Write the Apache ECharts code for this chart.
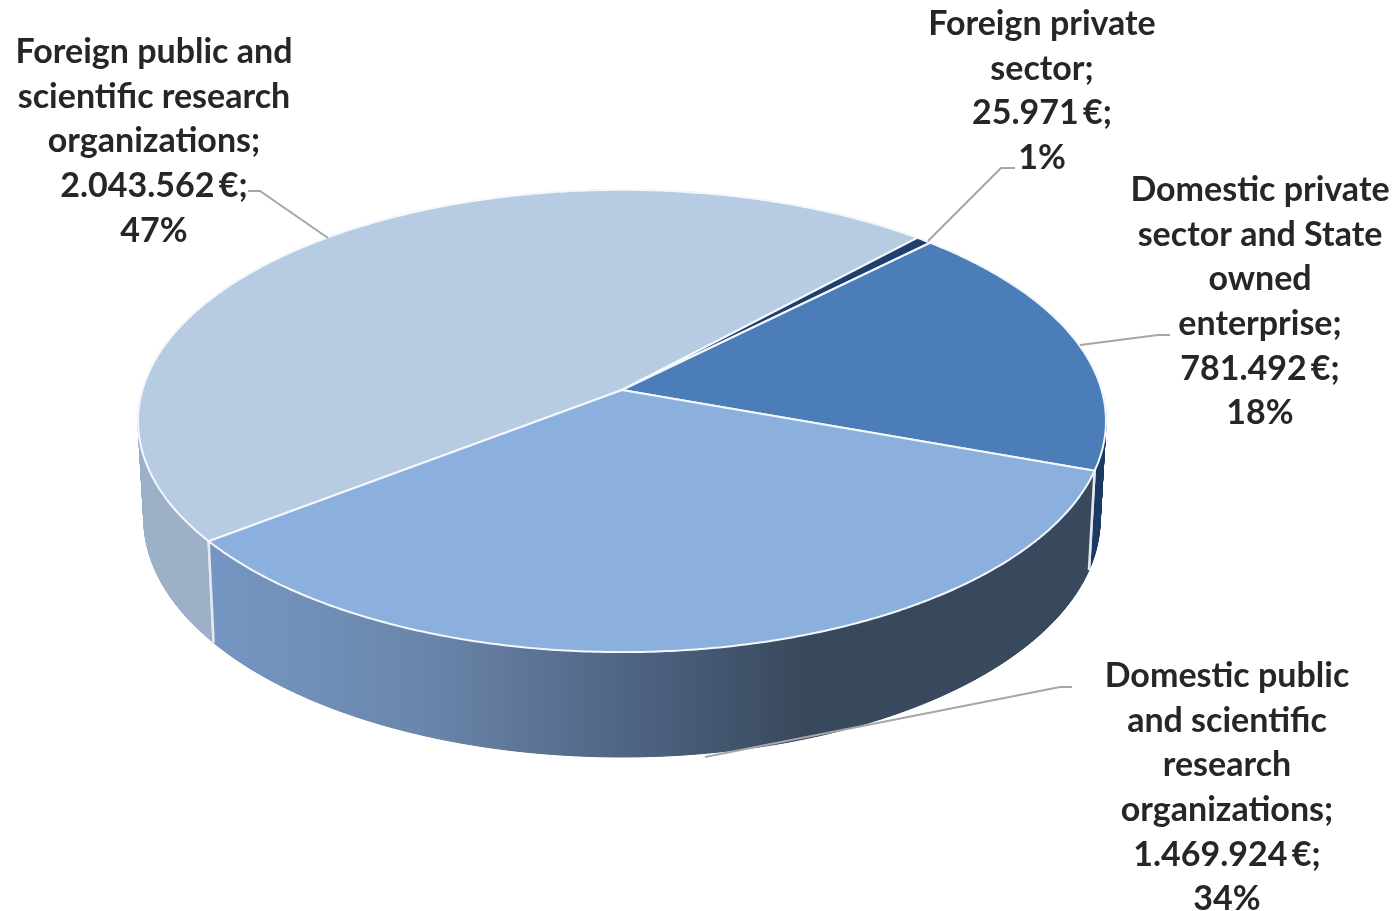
<!DOCTYPE html>
<html>
<head>
<meta charset="utf-8">
<style>
    html, body { margin: 0; padding: 0; background: #fff; }
    #chart { width: 1394px; height: 911px; }
</style>
<script src="https://cdn.jsdelivr.net/npm/echarts@6/dist/echarts.min.js"></script>
</head>
<body>
<div id="chart"></div>
<script>
const sliceNames = [
    'Foreign public and\nscientific research\norganizations;',
    'Foreign private\nsector;',
    'Domestic private\nsector and State\nowned\nenterprise;',
    'Domestic public\nand scientific\nresearch\norganizations;'
];
const sliceValues = [2043562, 25971, 781492, 1469924];
const topColors = ['#b7cce3', '#1f3f6e', '#4b7db9', '#8bb0de'];

// first slice starts here, clockwise on screen, degrees
const startAngle = 142.3;
const centerX = 622;
const centerY = 390;
const radiusX = 479.6;
const radiusY = 227;
const tilt = -0.134;

const labelAnchors = [[154, 30], [1042, 2], [1260, 168], [1227, 654]];
const leaderLines = [
    [[248, 191], [260, 191], [328, 238]],
    [[1015, 168], [1001, 168], [928, 241]],
    [[1170, 335], [1158, 335], [1080, 345]],
    [[1072, 687], [1060, 687], [705, 757]]
];

const total = sliceValues.reduce((a, b) => a + b, 0);

let project = function (deg) {
    let rad = deg * Math.PI / 180;
    let w = 1 + tilt * Math.sin(rad);
    return [centerX + radiusX * Math.cos(rad) / w, centerY + radiusY * Math.sin(rad) / w];
};
let lower = function (p) {
    return [centerX + (p[0] - centerX) * 0.988, centerY + (p[1] - centerY) * 1.03 + 97];
};
let arcPoints = function (from, to) {
    let pts = [];
    for (let a = from; a < to; a += 0.5) {
        pts.push(project(a));
    }
    pts.push(project(to));
    return pts;
};
let sliceStart = function (index) {
    let before = sliceValues.slice(0, index).reduce((a, b) => a + b, 0);
    return startAngle + before / total * 360;
};
let sliceEnd = function (index) {
    return sliceStart(index) + sliceValues[index] / total * 360;
};

let wallFill = function (index) {
    if (index === 0) {
        return '#9cb0c8';
    }
    if (index === 3) {
        return new echarts.graphic.LinearGradient(217, 0, 800, 0, [
            { offset: 0, color: '#7596c2' },
            { offset: 0.35, color: '#6b86ac' },
            { offset: 0.7, color: '#4f6584' },
            { offset: 1, color: '#39495d' }
        ], true);
    }
    return '#1c3a62';
};

// quads give the side tangents of the silhouette, the ring on top hides their seams
let renderWall = function (params, api) {
    let i = params.dataIndex;
    let top = arcPoints(sliceStart(i), sliceEnd(i));
    let bottom = top.map(lower);
    let fill = wallFill(i);
    let children = [];
    for (let n = 0; n + 1 < top.length; n++) {
        children.push({
            type: 'polygon',
            shape: { points: [top[n], top[n + 1], bottom[n + 1], bottom[n]] },
            style: { fill: fill, stroke: fill, lineWidth: 1 }
        });
    }
    children.push({
        type: 'polygon',
        shape: { points: top.concat(bottom.slice().reverse()) },
        style: { fill: fill }
    });
    [0, top.length - 1].forEach(function (n) {
        children.push({
            type: 'line',
            shape: { x1: top[n][0], y1: top[n][1], x2: bottom[n][0], y2: bottom[n][1] },
            style: { stroke: '#e4e9f0', lineWidth: 2.5 }
        });
    });
    return { type: 'group', children: children };
};
let renderTop = function (params, api) {
    let i = params.dataIndex;
    let pts = [[centerX, centerY]].concat(arcPoints(sliceStart(i), sliceEnd(i)));
    return {
        type: 'polygon',
        shape: { points: pts },
        style: { fill: topColors[i], stroke: '#f4f7fb', lineWidth: 2 }
    };
};

let labelText = function (index) {
    let amount = String(sliceValues[index]).replace(/\B(?=(\d{3})+$)/g, '.');
    let pct = Math.round(sliceValues[index] / total * 100);
    return sliceNames[index] + '\n' + amount + '\u2009€;\n' + pct + '%';
};

let graphics = [];
leaderLines.forEach(function (line) {
    graphics.push({
        type: 'polyline',
        z: 10,
        shape: { points: line },
        style: { fill: null, stroke: '#a6a6a6', lineWidth: 2 }
    });
});
labelAnchors.forEach(function (pos, i) {
    graphics.push({
        type: 'text',
        z: 11,
        x: pos[0],
        y: pos[1],
        style: {
            text: labelText(i),
            fill: '#262626',
            font: 'bold 34px Lato',
            lineHeight: 44.6,
            textAlign: 'center',
            textVerticalAlign: 'top'
        }
    });
});

const chart = echarts.init(document.getElementById('chart'), null, { renderer: 'canvas' });
chart.setOption({
    animation: false,
    backgroundColor: '#ffffff',
    series: [
        {
            type: 'custom',
            coordinateSystem: 'none',
            z: 1,
            silent: true,
            data: sliceValues,
            renderItem: renderWall
        },
        {
            type: 'custom',
            coordinateSystem: 'none',
            z: 2,
            silent: true,
            data: sliceValues,
            renderItem: renderTop
        }
    ],
    graphic: graphics
});
</script>
</body>
</html>
